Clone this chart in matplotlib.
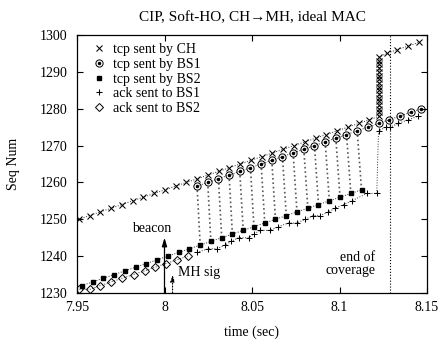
import matplotlib
matplotlib.use('Agg')
import matplotlib.pyplot as plt
from matplotlib.lines import Line2D

# ---- data ----
# tcp sent by CH (x)
ch_t = [7.9510, 7.9572, 7.9633, 7.9695, 7.9756, 7.9818, 7.9879, 7.9941, 8.0002, 8.0064,
        8.0125, 8.0187, 8.0248, 8.0310, 8.0371, 8.0433, 8.0494, 8.0556, 8.0617, 8.0679,
        8.0740, 8.0802, 8.0863, 8.0925, 8.0986, 8.1048, 8.1109, 8.1171,
        8.1227, 8.1227, 8.1227, 8.1227, 8.1227, 8.1227, 8.1227, 8.1227, 8.1227,
        8.1227, 8.1227, 8.1227, 8.1227, 8.1227, 8.1227, 8.1227, 8.1227,
        8.1270, 8.1327, 8.1393, 8.1454]
ch_seq = [1250, 1251, 1252, 1253, 1254, 1255, 1256, 1257, 1258, 1259,
          1260, 1261, 1262, 1263, 1264, 1265, 1266, 1267, 1268, 1269,
          1270, 1271, 1272, 1273, 1274, 1275, 1276, 1277,
          1278, 1279, 1280, 1281, 1282, 1283, 1284, 1285, 1286,
          1287, 1288, 1289, 1290, 1291, 1292, 1293, 1294,
          1295, 1296, 1297, 1298]

# tcp sent by BS1 (circle)
bs1_t = [8.0186, 8.0247, 8.0308, 8.0369, 8.0430, 8.0491, 8.0552, 8.0613, 8.0674, 8.0735,
         8.0796, 8.0857, 8.0918, 8.0979, 8.1040, 8.1101, 8.1162, 8.1223, 8.1284, 8.1345,
         8.1406, 8.1467]
bs1_seq = [1259, 1260, 1261, 1262, 1263, 1264, 1265, 1266, 1267, 1268,
           1269, 1270, 1271, 1272, 1273, 1274, 1275, 1276, 1277, 1278,
           1279, 1280]

# tcp sent by BS2 (filled square)
bs2_t = [7.9527, 7.9589, 7.9650, 7.9712, 7.9773, 7.9835, 7.9896, 7.9958, 8.0019, 8.0081,
         8.0142, 8.0204, 8.0265, 8.0327, 8.0388, 8.0450, 8.0511, 8.0573, 8.0634, 8.0696,
         8.0757, 8.0819, 8.0880, 8.0942, 8.1003, 8.1065, 8.1126]
bs2_seq = [1232, 1233, 1234, 1235, 1236, 1237, 1238, 1239, 1240, 1241,
           1242, 1243, 1244, 1245, 1246, 1247, 1248, 1249, 1250, 1251,
           1252, 1253, 1254, 1255, 1256, 1257, 1258]

# ack sent to BS1 (+)
ack1_t = [8.0185, 8.0251, 8.0300, 8.0347, 8.0380, 8.0423, 8.0480, 8.0509, 8.0547, 8.0604,
          8.0651, 8.0709, 8.0757, 8.0804, 8.0851, 8.0890, 8.0937, 8.0975, 8.1023, 8.1070,
          8.1156, 8.1213, 8.1223, 8.1265, 8.1290, 8.1335, 8.1393, 8.1450]
ack1_seq = [1241, 1242, 1242, 1243, 1244, 1245, 1245, 1246, 1247, 1247,
            1248, 1249, 1249, 1250, 1251, 1251, 1252, 1253, 1254, 1255,
            1257, 1257, 1274, 1275, 1275, 1276, 1277, 1278]

# ack sent to BS2 (diamond)
ack2_t = [7.9514, 7.9574, 7.9634, 7.9695, 7.9757, 7.9823, 7.9886, 7.9947, 8.0008, 8.0071,
          8.0134]
ack2_seq = [1231, 1231, 1232, 1233, 1234, 1235, 1236, 1237, 1238, 1239, 1240]

# events
beacon_t = 8.0
mh_sig_t = 8.0046
coverage_end_t = 8.129

plt.rcParams['font.family'] = ['Liberation Serif', 'DejaVu Serif']
plt.rcParams['font.size'] = 10

fig = plt.figure(figsize=(4.39, 3.43), dpi=100)
ax = fig.add_axes([77 / 439, 1 - 293 / 343, 350 / 439, 258 / 343])

line_kw = dict(ls=':', color='0.2', lw=0.7)

# BS1 -> BS2 switching links (grey dotted)
for tc, sc, tq, sq in zip(bs1_t[:16], bs1_seq[:16], bs2_t[11:], bs2_seq[11:]):
    ax.plot([tc, tq], [sc, sq], ls=':', color='0.35', lw=1.2)

ax.plot(ch_t, ch_seq, marker='x', ms=4.2, mew=0.75, mec='k', **line_kw)
ax.plot(bs1_t, bs1_seq, marker='o', ms=5.2, mfc='none', mew=0.7, mec='k', **line_kw)
ax.plot(bs1_t, bs1_seq, ls='none', marker='o', ms=1.5, color='k')
ax.plot(bs2_t, bs2_seq, marker='s', ms=3, mec='k', mfc='k', **line_kw)
ax.plot(ack1_t, ack1_seq, marker='+', ms=5, mew=0.75, mec='k', **line_kw)
ax.plot(ack2_t, ack2_seq, marker='D', ms=3.8, mfc='none', mew=0.7, mec='k', **line_kw)

# annotations
ax.annotate('', xy=(beacon_t, 1245), xytext=(beacon_t, 1230),
            arrowprops=dict(arrowstyle='-|>,head_length=0.5,head_width=0.15',
                            color='k', lw=0.9, shrinkA=0, shrinkB=0))
ax.text(7.9925, 1247.4, 'beacon', ha='center', va='center')
ax.annotate('', xy=(mh_sig_t, 1235), xytext=(mh_sig_t, 1230),
            arrowprops=dict(arrowstyle='-|>,head_length=0.4,head_width=0.12',
                            color='k', lw=0.8, ls=':', shrinkA=0, shrinkB=0))
ax.text(8.008, 1235.5, 'MH sig', ha='left', va='center')
ax.axvline(coverage_end_t, ls=':', color='k', lw=0.8)
ax.text(8.1205, 1237.9, 'end of\ncoverage', ha='right', va='center',
        multialignment='right', linespacing=1.0)

ax.set_xlim(7.95, 8.15)
ax.set_ylim(1230, 1300)
ax.set_xticks([7.95, 8.0, 8.05, 8.1, 8.15])
ax.set_xticklabels(['7.95', '8', '8.05', '8.1', '8.15'])
ax.set_yticks([1230, 1240, 1250, 1260, 1270, 1280, 1290, 1300])
ax.tick_params(direction='in', top=True, right=True, length=4, width=0.8)
ax.tick_params(axis='x', pad=6)
ax.tick_params(axis='y', pad=7)
for sp in ax.spines.values():
    sp.set_linewidth(0.9)

ax.set_xlabel('time (sec)', labelpad=8)
ax.set_ylabel('Seq Num', labelpad=14)
ax.set_title('CIP, Soft-HO, CH\u2192MH, ideal MAC', pad=10, fontsize=11)

# legend: markers only
h_ch = Line2D([], [], ls='none', marker='x', color='k', ms=4.2, mew=0.75)
h_bs1 = (Line2D([], [], ls='none', marker='o', ms=5.2, mfc='none', color='k', mew=0.7),
         Line2D([], [], ls='none', marker='o', ms=1.5, color='k'))
h_bs2 = Line2D([], [], ls='none', marker='s', ms=3, color='k')
h_a1 = Line2D([], [], ls='none', marker='+', ms=5, color='k', mew=0.75)
h_a2 = Line2D([], [], ls='none', marker='D', ms=3.8, mfc='none', color='k', mew=0.7)
ax.legend([h_ch, h_bs1, h_bs2, h_a1, h_a2],
          ['tcp sent by CH', 'tcp sent by BS1', 'tcp sent by BS2',
           'ack sent to BS1', 'ack sent to BS2'],
          loc='upper left', frameon=False, handlelength=1.2, handletextpad=0.45,
          labelspacing=0.12, borderaxespad=0.2, bbox_to_anchor=(0.015, 1.0))

fig.savefig('out.png', dpi=100)
